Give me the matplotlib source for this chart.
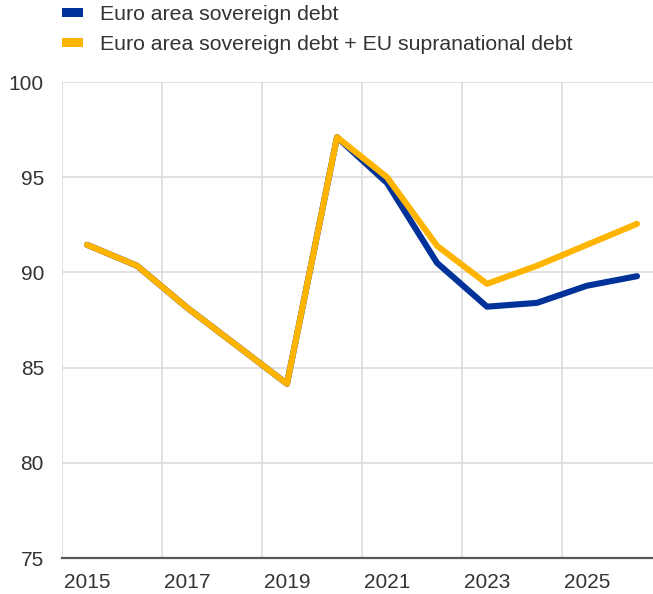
import matplotlib
matplotlib.use('Agg')
import matplotlib.pyplot as plt
from matplotlib.patches import Patch

# Data (percent of GDP)
years = [2015, 2016, 2017, 2018, 2019, 2020, 2021, 2022, 2023, 2024, 2025, 2026]
sovereign = [91.45, 90.35, 88.15, 86.15, 84.15, 97.1, 94.7, 90.5, 88.2, 88.4, 89.3, 89.8]
sovereign_eu = [91.45, 90.35, 88.15, 86.15, 84.15, 97.1, 95.0, 91.4, 89.4, 90.35, 91.45, 92.55]
series_labels = ['Euro area sovereign debt',
                 'Euro area sovereign debt + EU supranational debt']
y_ticks = [75, 80, 85, 90, 95, 100]

COLOR_BLUE = '#003299'
COLOR_YELLOW = '#FFB400'
COLOR_GRID = '#D9D9D9'
COLOR_TEXT = '#333333'

plt.rcParams['font.family'] = ['Liberation Sans', 'DejaVu Sans']

W, H = 653, 594
fig = plt.figure(figsize=(W / 100, H / 100), dpi=100)
fig.patch.set_facecolor('white')

# axes extends past the right edge, like the cropped original
ax = fig.add_axes([62 / W, (H - 558) / H, 600 / W, 476 / H])

x = list(range(len(years)))
ax.plot(x, sovereign, color=COLOR_BLUE, linewidth=4.4, solid_joinstyle='round',
        solid_capstyle='round', zorder=3)
ax.plot(x, sovereign_eu, color=COLOR_YELLOW, linewidth=4.4, solid_joinstyle='round',
        solid_capstyle='round', zorder=4)

ax.set_xlim(-0.5, len(years) - 0.5)
ax.set_ylim(75, 100)
ax.set_yticks(y_ticks)
ax.set_yticklabels([str(v) for v in y_ticks])
ax.set_xticks(x[::2])
ax.set_xticklabels([str(y) for y in years[::2]])
ax.set_xticks([i - 0.5 for i in x[::2]] + [len(years) - 0.5], minor=True)

ax.grid(axis='y', which='major', color=COLOR_GRID, linewidth=1.1, zorder=0)
ax.grid(axis='x', which='minor', color=COLOR_GRID, linewidth=1.1, zorder=0)
ax.grid(axis='x', which='major', visible=False)
ax.set_axisbelow(True)

for side in ['top', 'right', 'left']:
    ax.spines[side].set_visible(False)
ax.spines['bottom'].set_color('#595959')
ax.spines['bottom'].set_linewidth(1.6)
ax.spines['bottom'].set_zorder(5)

ax.tick_params(axis='both', which='both', length=0, labelsize=15, labelcolor=COLOR_TEXT)
ax.tick_params(axis='y', pad=13)
ax.tick_params(axis='x', pad=11)

handles = [Patch(facecolor=COLOR_BLUE, edgecolor='none'),
           Patch(facecolor=COLOR_YELLOW, edgecolor='none')]
fig.legend(handles, series_labels, loc='upper left',
           bbox_to_anchor=(60 / W, 1 - 3 / H), frameon=False, fontsize=15.3,
           handlelength=1.0, handleheight=0.28, handletextpad=0.8,
           labelspacing=0.53, borderpad=0.1, borderaxespad=0,
           labelcolor=COLOR_TEXT)

fig.savefig('out.png', dpi=100, facecolor='white')
